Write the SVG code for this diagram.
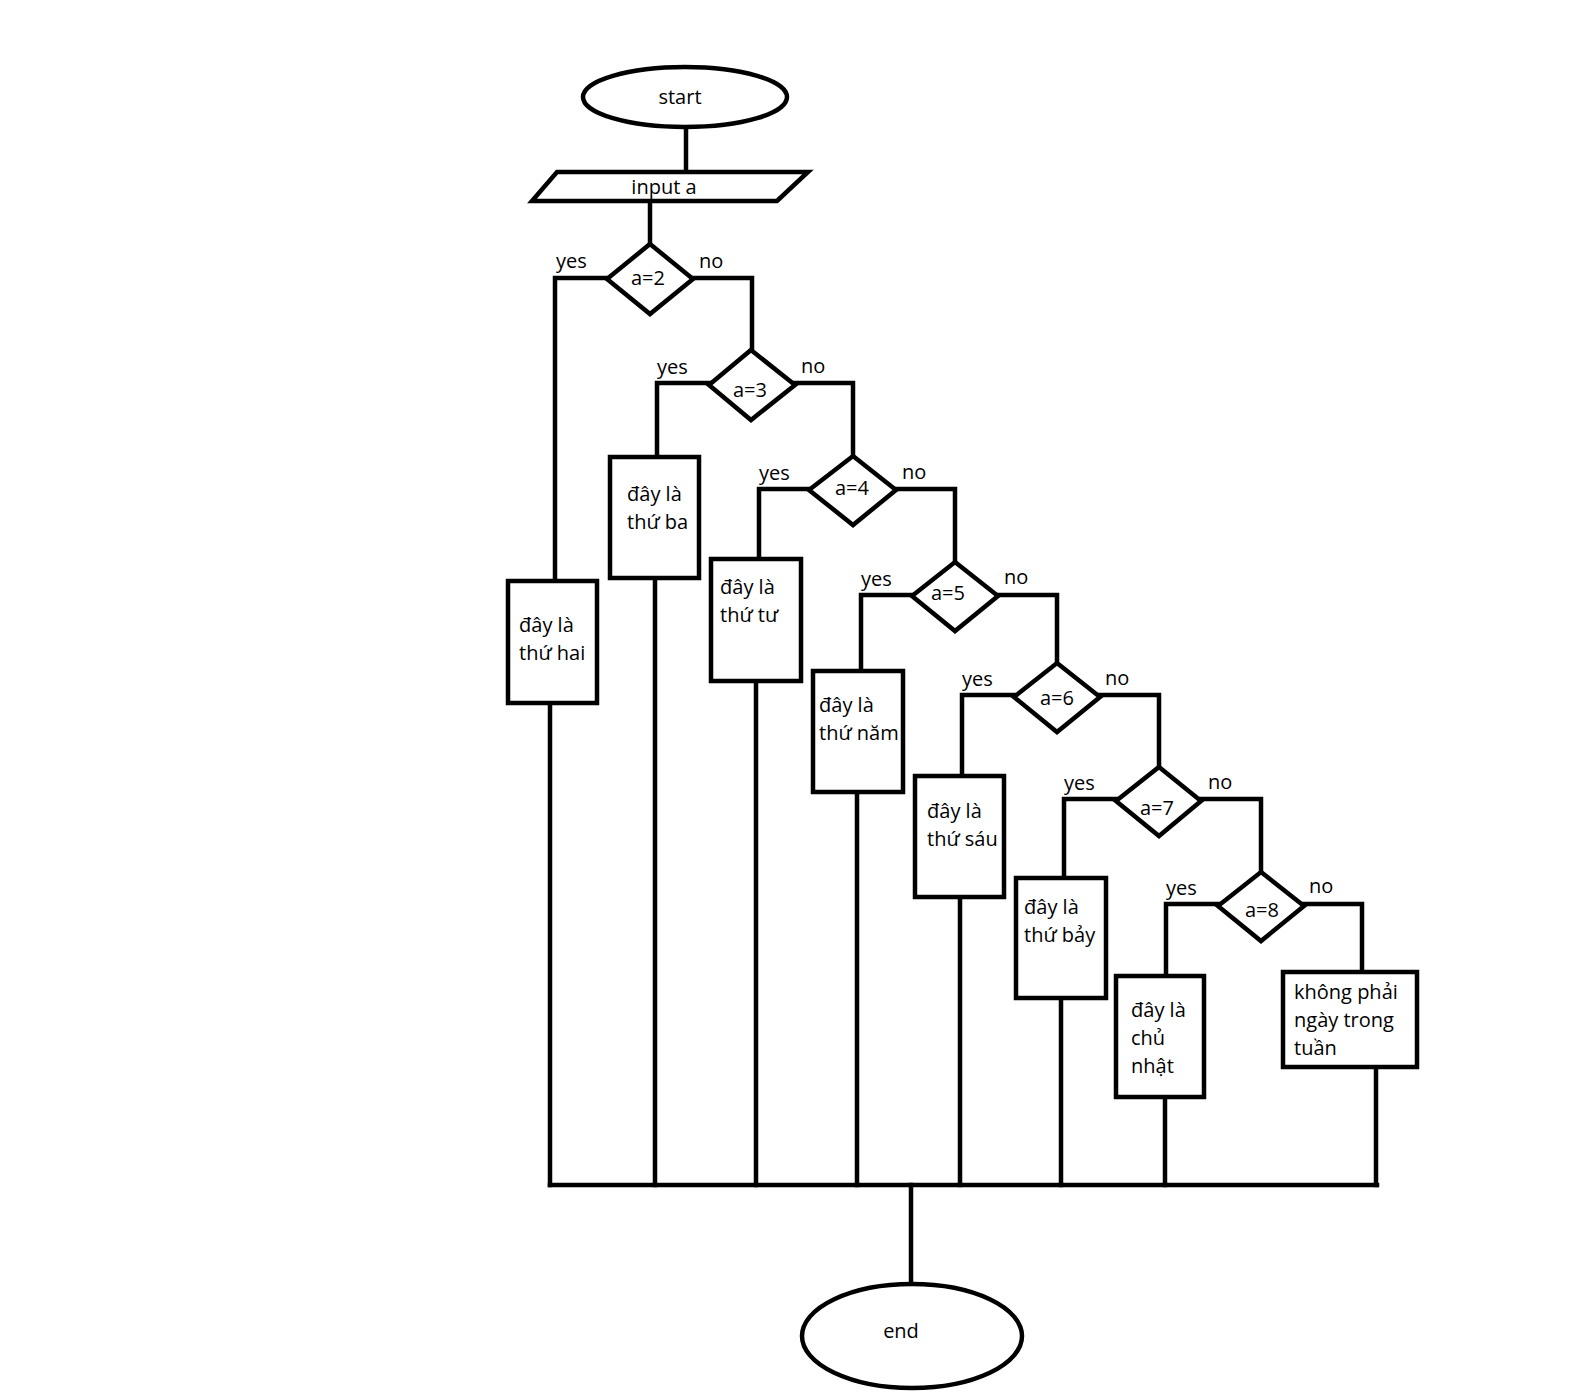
<svg xmlns="http://www.w3.org/2000/svg" width="1572" height="1400" viewBox="0 0 1572 1400">
<style>
.s{fill:#fff;stroke:#000;stroke-width:4.5;stroke-linejoin:miter}
.c{fill:none;stroke:#000;stroke-width:4.5;stroke-linecap:square}
text{font-family:"Open Sans","Noto Sans","DejaVu Sans",sans-serif;font-size:20px;fill:#000}
.m{text-anchor:middle}
</style>
<rect width="1572" height="1400" fill="#fff"/>
<g id="connectors" class="c">
<path d="M686 128V172"/>
<path d="M650 201V244"/>
<path d="M607 278H555V581"/>
<path d="M693 278H752V349"/>
<path d="M709 383H657V457"/>
<path d="M795 383H853V455"/>
<path d="M809 489H759V559"/>
<path d="M896 489H955V561"/>
<path d="M912 595H861V671"/>
<path d="M998 595H1057V662"/>
<path d="M1014 695H962V776"/>
<path d="M1100 695H1159V766"/>
<path d="M1116 799H1064V878"/>
<path d="M1201 799H1261V871"/>
<path d="M1218 904H1166V976"/>
<path d="M1304 904H1362V972"/>
<path d="M550 703V1185"/>
<path d="M655 578V1185"/>
<path d="M756 681V1185"/>
<path d="M857 792V1185"/>
<path d="M960 897V1185"/>
<path d="M1061 998V1185"/>
<path d="M1165 1097V1185"/>
<path d="M1376 1067V1185"/>
<path d="M550 1185H1377"/>
<path d="M911 1185V1284"/>
</g>
<g id="start"><ellipse class="s" cx="685" cy="97" rx="102" ry="30"/><text class="m" x="680" y="104">start</text></g>
<g id="input"><polygon class="s" points="557,172 808,172 777,201 532,201"/><text class="m" x="664" y="194">input a</text></g>
<g id="d2"><polygon class="s" points="650,244 693,279 650,314 607,279"/><text class="m" x="648" y="285">a=2</text><text x="556" y="268">yes</text><text x="699" y="268">no</text></g>
<g id="d3"><polygon class="s" points="751,350 795,385 751,420 709,385"/><text class="m" x="750" y="397">a=3</text><text x="657" y="374">yes</text><text x="801" y="373">no</text></g>
<g id="d4"><polygon class="s" points="853,456 896,490 853,525 809,490"/><text class="m" x="852" y="495">a=4</text><text x="759" y="480">yes</text><text x="902" y="479">no</text></g>
<g id="d5"><polygon class="s" points="955,562 998,596 955,631 912,596"/><text class="m" x="948" y="600">a=5</text><text x="861" y="586">yes</text><text x="1004" y="584">no</text></g>
<g id="d6"><polygon class="s" points="1057,663 1100,697 1057,732 1014,697"/><text class="m" x="1057" y="705">a=6</text><text x="962" y="686">yes</text><text x="1105" y="685">no</text></g>
<g id="d7"><polygon class="s" points="1159,767 1201,801 1159,836 1116,801"/><text class="m" x="1157" y="815">a=7</text><text x="1064" y="790">yes</text><text x="1208" y="789">no</text></g>
<g id="d8"><polygon class="s" points="1261,872 1304,906 1261,941 1218,906"/><text class="m" x="1262" y="917">a=8</text><text x="1166" y="895">yes</text><text x="1309" y="893">no</text></g>
<g id="b2"><rect class="s" x="508" y="581" width="89" height="122"/><text x="519" y="632">đây là</text><text x="519" y="660">thứ hai</text></g>
<g id="b3"><rect class="s" x="610" y="457" width="89" height="121"/><text x="627" y="501">đây là</text><text x="627" y="529">thứ ba</text></g>
<g id="b4"><rect class="s" x="711" y="559" width="90" height="122"/><text x="720" y="594">đây là</text><text x="720" y="622">thứ tư</text></g>
<g id="b5"><rect class="s" x="813" y="671" width="90" height="121"/><text x="819" y="712">đây là</text><text x="819" y="740">thứ năm</text></g>
<g id="b6"><rect class="s" x="915" y="776" width="89" height="121"/><text x="927" y="818">đây là</text><text x="927" y="846">thứ sáu</text></g>
<g id="b7"><rect class="s" x="1016" y="878" width="90" height="120"/><text x="1024" y="914">đây là</text><text x="1024" y="942">thứ bảy</text></g>
<g id="b8"><rect class="s" x="1116" y="976" width="88" height="121"/><text x="1131" y="1017">đây là</text><text x="1131" y="1045">chủ</text><text x="1131" y="1073">nhật</text></g>
<g id="b9"><rect class="s" x="1283" y="972" width="134" height="95"/><text x="1294" y="999">không phải</text><text x="1294" y="1027">ngày trong</text><text x="1294" y="1055">tuần</text></g>
<g id="end"><ellipse class="s" cx="912" cy="1336" rx="110" ry="52"/><text class="m" x="901" y="1338">end</text></g>
</svg>
